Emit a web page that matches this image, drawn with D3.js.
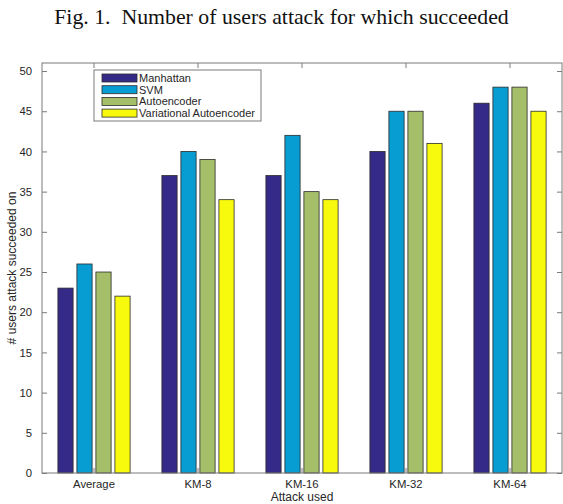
<!DOCTYPE html>
<html>
<head>
<meta charset="utf-8">
<script src="https://cdn.jsdelivr.net/npm/d3@7"></script>
<style>
  body { margin: 0; background: #fff; }
  text { font-family: "Liberation Sans", Arial, Helvetica, sans-serif; }
</style>
</head>
<body>
<div id="chart"></div>
<script>
// data
var categories = ["Average", "KM-8", "KM-16", "KM-32", "KM-64"];
var seriesNames = ["Manhattan", "SVM", "Autoencoder", "Variational Autoencoder"];
var manhattan = [23, 37, 37, 40, 46];
var svmVals = [26, 40, 42, 45, 48];
var autoencoder = [25, 39, 35, 45, 48];
var variational = [22, 34, 34, 41, 45];
var yTicks = [0, 5, 10, 15, 20, 25, 30, 35, 40, 45, 50];

var seriesValues = [manhattan, svmVals, autoencoder, variational];
var colors = ["#352a87", "#079dd2", "#a5be6a", "#f8fa0d"];

// size and margin
var width = 563, height = 504;
var margin = {top: 63, right: 1, bottom: 31, left: 42};
var innerW = width - margin.left - margin.right;
var innerH = height - margin.top - margin.bottom;
var axisColor = "#7a7a7a";
var textColor = "#262626";

var svg = d3.select("#chart").append("svg")
            .attr("width", width)
            .attr("height", height);

// title
svg.append("text")
   .text("Fig. 1.  Number of users attack for which succeeded")
   .attr("x", width / 2)
   .attr("y", 24)
   .attr("text-anchor", "middle")
   .style("font-family", "'Liberation Serif', 'Times New Roman', serif")
   .style("white-space", "pre")
   .attr("font-size", 21.8)
   .attr("fill", "#111");

var g = svg.append("g")
           .attr("transform", "translate(" + margin.left + "," + margin.top + ")");

// scales
var xScale = d3.scaleBand().domain(categories).range([0, innerW]);
var inner = d3.scaleBand().domain(d3.range(seriesNames.length))
              .range([xScale.bandwidth() / 2 - 38, xScale.bandwidth() / 2 + 38])
              .paddingInner(0.2).paddingOuter(0.1);
var yScale = d3.scaleLinear().domain([0, 51]).range([innerH, 0]);

// bars
var groups = g.selectAll(".group")
              .data(categories)
              .enter().append("g")
              .attr("class", "group")
              .attr("transform", function(d) { return "translate(" + xScale(d) + ",0)"; });

groups.selectAll("rect")
      .data(function(d, i) { return seriesValues.map(function(s, j) { return {s: j, v: s[i]}; }); })
      .enter().append("rect")
      .attr("x", function(d) { return inner(d.s); })
      .attr("width", inner.bandwidth())
      .attr("y", function(d) { return yScale(d.v); })
      .attr("height", function(d) { return innerH - yScale(d.v); })
      .attr("fill", function(d) { return colors[d.s]; })
      .attr("stroke", "#2b2b2b")
      .attr("stroke-width", 0.8);

// axes box
g.append("rect")
 .attr("x", 0).attr("y", 0)
 .attr("width", innerW).attr("height", innerH)
 .attr("fill", "none")
 .attr("stroke", axisColor)
 .attr("stroke-width", 1);

// y axis left and right (ticks inward)
var yAxisL = d3.axisLeft(yScale).tickValues(yTicks).tickSizeInner(-5).tickSizeOuter(0).tickPadding(10);
var yl = g.append("g").call(yAxisL);
var yAxisR = d3.axisRight(yScale).tickValues(yTicks).tickSizeInner(-5).tickSizeOuter(0).tickFormat("");
var yr = g.append("g").attr("transform", "translate(" + innerW + ",0)").call(yAxisR);

// x axis bottom and top
var xAxisB = d3.axisBottom(xScale).tickSizeInner(-5).tickSizeOuter(0).tickPadding(7);
var xb = g.append("g").attr("transform", "translate(0," + innerH + ")").call(xAxisB);
var xAxisT = d3.axisTop(xScale).tickSizeInner(-5).tickSizeOuter(0).tickFormat("");
var xt = g.append("g").call(xAxisT);

[yl, yr, xb, xt].forEach(function(a) {
  a.select(".domain").remove();
  a.selectAll("line").attr("stroke", axisColor);
  a.selectAll("text").attr("fill", textColor).attr("font-size", 11.3)
   .style("font-family", "'Liberation Sans', Arial, sans-serif");
});

// axis labels
svg.append("text")
   .text("Attack used")
   .attr("x", margin.left + innerW / 2)
   .attr("y", 501)
   .attr("text-anchor", "middle")
   .attr("font-size", 12)
   .attr("fill", textColor);
svg.append("text")
   .text("# users attack succeeded on")
   .attr("transform", "translate(16," + (margin.top + yScale(25.5)) + ") rotate(-90)")
   .attr("text-anchor", "middle")
   .attr("font-size", 12)
   .attr("fill", textColor);

// legend
var legend = g.append("g").attr("transform", "translate(" + (xScale.bandwidth() / 2) + ",7)");
legend.append("rect")
      .attr("x", 0).attr("y", 0)
      .attr("width", 167).attr("height", 51)
      .attr("fill", "#fff")
      .attr("stroke", axisColor)
      .attr("stroke-width", 1);
var items = legend.selectAll(".item")
                  .data(seriesNames)
                  .enter().append("g")
                  .attr("class", "item")
                  .attr("transform", function(d, i) { return "translate(0," + (8 + i * 11.7) + ")"; });
items.append("rect")
     .attr("x", 8).attr("y", -4)
     .attr("width", 35).attr("height", 8)
     .attr("fill", function(d, i) { return colors[i]; })
     .attr("stroke", "#2b2b2b")
     .attr("stroke-width", 0.8);
items.append("text")
     .text(function(d) { return d; })
     .attr("x", 45)
     .attr("y", 3.9)
     .attr("font-size", 11)
     .attr("fill", textColor);
</script>
</body>
</html>
